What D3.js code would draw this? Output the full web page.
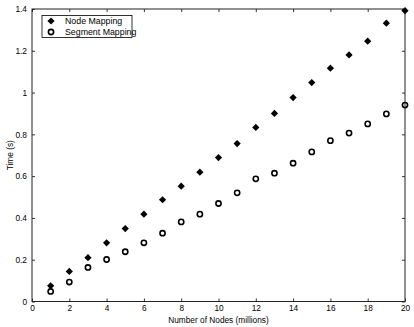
<!DOCTYPE html>
<html>
<head>
<meta charset="utf-8">
<script src="https://cdn.jsdelivr.net/npm/d3@7"></script>
<style>
  body { margin: 0; background: #fff; }
  svg text { font-family: "Liberation Sans", Arial, sans-serif; fill: #000; }
</style>
</head>
<body>
<svg id="chart"></svg>
<script>
// node counts (millions)
const nodes = [1, 2, 3, 4, 5, 6, 7, 8, 9, 10, 11, 12, 13, 14, 15, 16, 17, 18, 19, 20];
// time in seconds
const nodeMapping = [0.075, 0.144, 0.21, 0.281, 0.349, 0.418, 0.487, 0.552, 0.619, 0.689,
                     0.756, 0.833, 0.9, 0.976, 1.048, 1.117, 1.18, 1.246, 1.332, 1.392];
const segmentMapping = [0.048, 0.093, 0.163, 0.201, 0.238, 0.281, 0.327, 0.381, 0.418, 0.469,
                        0.52, 0.587, 0.614, 0.662, 0.716, 0.77, 0.806, 0.85, 0.898, 0.94];
const xTicks = [0, 2, 4, 6, 8, 10, 12, 14, 16, 18, 20];
const yTicks = [0, 0.2, 0.4, 0.6, 0.8, 1, 1.2, 1.4];
const seriesNames = ["Node Mapping", "Segment Mapping"];

const config = {
    width: 414,
    height: 327,
    margin: {top: 9, right: 9, bottom: 25.5, left: 32}
};

const svg = d3.select('#chart')
    .attr('width', config.width)
    .attr('height', config.height);

const w = config.width - config.margin.left - config.margin.right;
const h = config.height - config.margin.top - config.margin.bottom;

const chart = svg.append('g')
    .attr('transform', `translate(${config.margin.left},${config.margin.top})`);

const xScale = d3.scaleLinear().domain([0, 20]).range([0, w]);
const yScale = d3.scaleLinear().domain([0, 1.4]).range([h, 0]);

// matlab style: ticks point inward, on all four sides
function styleAxis(g) {
    g.select('.domain').remove();
    g.selectAll('.tick line').attr('stroke', '#000').attr('stroke-width', 0.8);
    g.selectAll('.tick text').attr('font-size', 8.3);
}

chart.append('g')
    .attr('transform', `translate(0,${h})`)
    .call(d3.axisBottom(xScale).tickValues(xTicks).tickSize(-3).tickPadding(4).tickFormat(d3.format('d')))
    .call(styleAxis);

chart.append('g')
    .call(d3.axisTop(xScale).tickValues(xTicks).tickSize(-3).tickFormat(''))
    .call(styleAxis);

chart.append('g')
    .call(d3.axisLeft(yScale).tickValues(yTicks).tickSize(-3).tickPadding(5).tickFormat(d3.format('~g')))
    .call(styleAxis);

chart.append('g')
    .attr('transform', `translate(${w},0)`)
    .call(d3.axisRight(yScale).tickValues(yTicks).tickSize(-3).tickFormat(''))
    .call(styleAxis);

// box around the plot
chart.append('rect')
    .attr('width', w)
    .attr('height', h)
    .attr('fill', 'none')
    .attr('stroke', '#222')
    .attr('stroke-width', 1);

// square diamond, like matlab's 'd' marker
const r = 3.6;
const diamond = `M0,${-r}L${r},0L0,${r}L${-r},0Z`;

chart.selectAll('.node-pt')
    .data(nodes)
    .join('path')
    .attr('class', 'node-pt')
    .attr('d', diamond)
    .attr('transform', (d, i) => `translate(${xScale(d)},${yScale(nodeMapping[i])})`)
    .attr('fill', '#000');

chart.selectAll('.seg-pt')
    .data(nodes)
    .join('circle')
    .attr('class', 'seg-pt')
    .attr('cx', d => xScale(d))
    .attr('cy', (d, i) => yScale(segmentMapping[i]))
    .attr('r', 2.6)
    .attr('fill', 'none')
    .attr('stroke', '#000')
    .attr('stroke-width', 1.6);

// axis titles
svg.append('text')
    .attr('x', config.margin.left + w / 2)
    .attr('y', 323)
    .attr('text-anchor', 'middle')
    .attr('font-size', 8.3)
    .text('Number of Nodes (millions)');

svg.append('text')
    .attr('transform', `translate(13,${config.margin.top + h / 2}) rotate(-90)`)
    .attr('text-anchor', 'middle')
    .attr('font-size', 8.3)
    .text('Time (s)');

// legend
const legend = svg.append('g').attr('transform', 'translate(42,15.5)');
legend.append('rect')
    .attr('width', 90)
    .attr('height', 22)
    .attr('fill', '#fff')
    .attr('stroke', '#000')
    .attr('stroke-width', 0.8);

legend.append('path')
    .attr('d', diamond)
    .attr('transform', 'translate(9,5.5)')
    .attr('fill', '#000');
legend.append('circle')
    .attr('cx', 9).attr('cy', 16.5).attr('r', 2.6)
    .attr('fill', 'none').attr('stroke', '#000').attr('stroke-width', 1.6);

legend.selectAll('.leg-label')
    .data(seriesNames)
    .join('text')
    .attr('class', 'leg-label')
    .attr('x', 23)
    .attr('y', (d, i) => 8.8 + i * 11)
    .attr('font-size', 8.8)
    .text(d => d);
</script>
</body>
</html>
